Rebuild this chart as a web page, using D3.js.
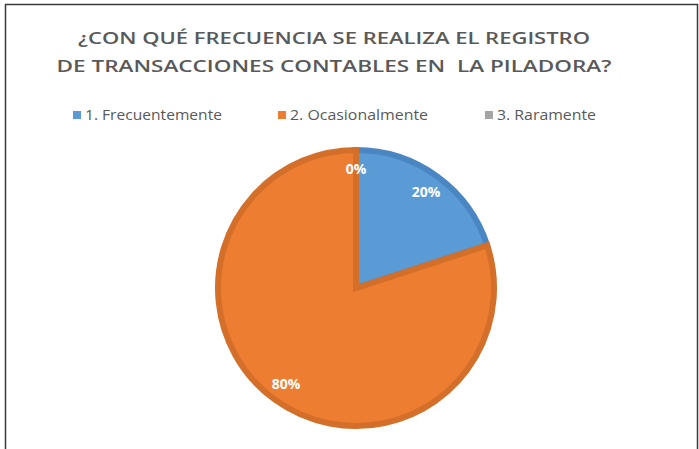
<!DOCTYPE html>
<html>
<head>
<meta charset="utf-8">
<script src="https://cdn.jsdelivr.net/npm/d3@7"></script>
<style>
  body { margin: 0; background: #fff; }
  svg { display: block; font-family: "Open Sans", "Noto Sans", sans-serif; }
</style>
</head>
<body>
<div class="canvas"></div>
<script>
let width = 699, height = 449;
let titleLines = ['¿CON QUÉ FRECUENCIA SE REALIZA EL REGISTRO', 'DE TRANSACCIONES CONTABLES EN  LA PILADORA?'];
let categories = ['1. Frecuentemente', '2. Ocasionalmente', '3. Raramente'];
let values = [20, 80, 0];
let colors = ['#5b9bd5', '#ed7d31', '#a5a5a5'];
let strokes = ['#4a87c2', '#d46f2a', '#939393'];

let svg = d3.select('.canvas').append('svg')
  .attr('width', width)
  .attr('height', height);

// frame
svg.append('path')
  .attr('d', 'M5.5,' + height + ' V4.5 H697.5 V' + height)
  .attr('fill', 'none')
  .attr('stroke', '#3a3a3a')
  .attr('stroke-width', 1.5);

// title
svg.selectAll('.title')
  .data(titleLines)
  .enter()
  .append('text')
  .attr('class', 'title')
  .attr('x', 334)
  .attr('y', (d, i) => 44 + i * 28)
  .attr('text-anchor', 'middle')
  .attr('fill', '#595959')
  .style('font-size', '17px')
  .style('font-weight', '600')
  .style('white-space', 'pre')
  .attr('textLength', (d, i) => i === 0 ? 512 : 555)
  .attr('lengthAdjust', 'spacingAndGlyphs')
  .text(d => d);

// legend
let legendX = [73, 278, 485];
let legendW = [137, 138, 99];
let legend = svg.selectAll('.legend-item')
  .data(categories)
  .enter()
  .append('g')
  .attr('class', 'legend-item')
  .attr('transform', (d, i) => `translate(${legendX[i]}, 115)`);

legend.append('rect')
  .attr('x', 0)
  .attr('y', -4)
  .attr('width', 8)
  .attr('height', 8)
  .attr('fill', (d, i) => colors[i]);

legend.append('text')
  .attr('x', 12)
  .attr('y', 0)
  .attr('dy', '0.35em')
  .attr('fill', '#595959')
  .style('font-size', '14px')
  .attr('textLength', (d, i) => legendW[i])
  .attr('lengthAdjust', 'spacingAndGlyphs')
  .text(d => d);

// pie
let cx = 356, cy = 288, radius = 141;
let pie = d3.pie().sort(null).value(d => d);
let arc = d3.arc().innerRadius(0).outerRadius(radius - 3);
let labelArc = d3.arc().innerRadius(119).outerRadius(119);

let pieG = svg.append('g')
  .attr('transform', `translate(${cx}, ${cy})`);

let slices = pie(values);

pieG.selectAll('path')
  .data(slices.filter(d => d.value > 0))
  .enter()
  .append('path')
  .attr('d', arc)
  .attr('fill', d => colors[d.index])
  .attr('stroke', d => strokes[d.index])
  .attr('stroke-width', 6)
  .attr('stroke-linejoin', 'miter');

pieG.selectAll('.label')
  .data(slices)
  .enter()
  .append('text')
  .attr('class', 'label')
  .attr('transform', d => `translate(${labelArc.centroid(d)})`)
  .attr('text-anchor', 'middle')
  .attr('dy', '0.35em')
  .attr('fill', '#fff')
  .style('font-size', '14px')
  .style('font-weight', 'bold')
  .text(d => d.data + '%');
</script>
</body>
</html>
